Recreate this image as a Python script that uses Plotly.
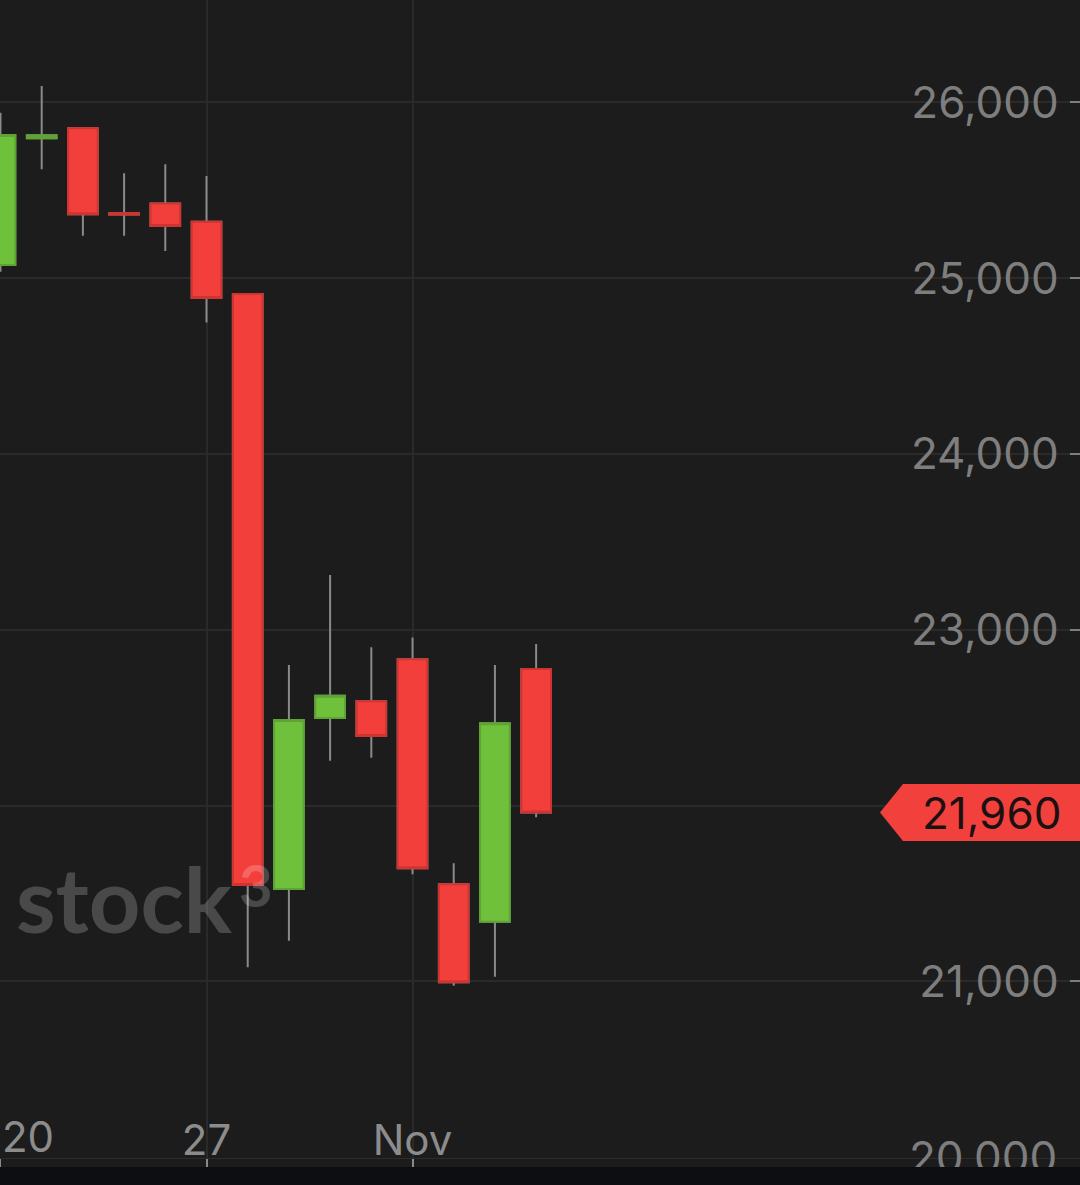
import plotly.graph_objects as go

# ---- data ----
dates = ["2025-10-20", "2025-10-21", "2025-10-22", "2025-10-23", "2025-10-24",
         "2025-10-27", "2025-10-28", "2025-10-29", "2025-10-30", "2025-10-31",
         "2025-11-03", "2025-11-04", "2025-11-05", "2025-11-06"]
opens = [25075, 25795, 25852, 25370, 25425, 25321, 24910, 21525, 22498, 22593, 22832, 21552, 21339, 22777]
highs = [25941, 26093, 25855, 25596, 25647, 25581, 24915, 22799, 23311, 22900, 22955, 21671, 22799, 22919]
lows = [25036, 25619, 25241, 25241, 25154, 24747, 21080, 21231, 22255, 22272, 21609, 20975, 21026, 21933]
closes = [25814, 25812, 25363, 25362, 25296, 24887, 21548, 22486, 22625, 22395, 21643, 20995, 22468, 21960]

x_tick_dates = ["2025-10-20", "2025-10-27", "2025-11-03"]
x_tick_text = ["20", "27", "Nov"]
y_ticks = [20000, 21000, 22000, 23000, 24000, 25000, 26000]

# ---- style ----
BG = "#1c1c1c"
GRID = "#2a2a2a"
WICK = "#8a8a8a"
UP_FILL, UP_LINE = "#6fc13b", "#5ea333"
DN_FILL, DN_LINE = "#f33f3b", "#cf3430"
LABEL = "#7e7e7e"
FONT = "Inter"
WM = "rgba(255,255,255,0.2)"

body_hi = [max(o, c) for o, c in zip(opens, closes)]
body_lo = [min(o, c) for o, c in zip(opens, closes)]
last = closes[-1]

# y tick labels: the one hidden behind the last-price tag is left blank
y_ticktext = ["" if abs(v - last) < 300 else f"{v:,}" for v in y_ticks]

fig = go.Figure()
# wicks
fig.add_trace(go.Candlestick(
    x=dates, open=opens, high=highs, low=lows, close=closes,
    increasing=dict(line=dict(color=WICK, width=2), fillcolor="rgba(0,0,0,0)"),
    decreasing=dict(line=dict(color=WICK, width=2), fillcolor="rgba(0,0,0,0)"),
    whiskerwidth=0, hoverinfo="skip", showlegend=False,
))
# bodies
fig.add_trace(go.Candlestick(
    x=dates, open=opens, high=body_hi, low=body_lo, close=closes,
    increasing=dict(line=dict(color=UP_LINE, width=2), fillcolor=UP_FILL),
    decreasing=dict(line=dict(color=DN_LINE, width=2), fillcolor=DN_FILL),
    whiskerwidth=0, showlegend=False,
))

W, H = 1080, 1185
plot_h = 1158

fig.update_layout(
    width=W, height=H,
    paper_bgcolor=BG, plot_bgcolor=BG,
    margin=dict(l=0, r=0, t=0, b=H - plot_h),
    boxgap=0.28, boxgroupgap=0,
    showlegend=False,
    xaxis=dict(
        type="category",
        range=[-0.012, 26.2],
        rangeslider=dict(visible=False),
        tickmode="array", tickvals=x_tick_dates, ticktext=[" ", x_tick_text[1], x_tick_text[2]],
        ticks="outside", ticklen=8, tickwidth=2, tickcolor="#8a8a8a",
        ticklabelposition="inside",
        tickfont=dict(family=FONT, size=42, color="#8c8c8c"),
        showgrid=True, gridcolor=GRID, gridwidth=1.5,
        showline=True, linecolor="#2c2c2c", linewidth=1,
        zeroline=False, fixedrange=True,
    ),
    yaxis=dict(
        side="right",
        range=[19994.9, 26581.9],
        tickmode="array", tickvals=y_ticks, ticktext=y_ticktext,
        ticks="inside", ticklen=10, tickwidth=2, tickcolor=LABEL,
        ticklabelposition="inside",
        ticklabelstandoff=17,
        tickfont=dict(family=FONT, size=44, color=LABEL),
        showgrid=True, gridcolor=GRID, gridwidth=1.5,
        zeroline=False, showline=False, fixedrange=True,
    ),
)

# "20" label clamped at the left edge
fig.add_annotation(
    x=0, xref="paper", xanchor="left",
    y=0, yref="paper", yanchor="bottom", yshift=-6,
    text=x_tick_text[0], showarrow=False,
    font=dict(family=FONT, size=42, color="#8c8c8c"),
)

# lowest y tick label (sits at the very edge of the plot, partly hidden)
fig.add_annotation(
    x=1059 / W, xref="paper", xanchor="right",
    y=y_ticks[0], yref="y", yanchor="middle",
    text=f"{y_ticks[0]:,}", showarrow=False,
    font=dict(family=FONT, size=44, color=LABEL),
)

# watermark
fig.add_annotation(
    x=14 / W, xref="paper", xanchor="left",
    y=1 - 898 / plot_h, yref="paper", yanchor="middle",
    text="stock", showarrow=False,
    font=dict(family="Lato", size=90, weight=700, color=WM),
)
fig.add_annotation(
    x=237 / W, xref="paper", xanchor="left",
    y=1 - 884 / plot_h, yref="paper", yanchor="middle",
    text="3", showarrow=False,
    font=dict(family="Lato", size=58, weight=700, color=WM),
)

# last price tag
fig.add_shape(
    type="path", xref="paper", yref="y",
    xsizemode="pixel", ysizemode="pixel", xanchor=1, yanchor=last,
    path="M -200,0 L -177,28.5 L 0,28.5 L 0,-28.5 L -177,-28.5 Z",
    fillcolor="#f2403c", line=dict(width=0), layer="above",
)
fig.add_annotation(
    x=991 / W, xref="paper", xanchor="center",
    y=last, yref="y", yanchor="middle",
    text=f"{last:,}", showarrow=False,
    font=dict(family=FONT, size=44, color="#1a1212"),
)

# bottom dark strip (drawn as an annotation box so it covers the 20,000 label)
fig.add_annotation(
    x=0, xref="paper", xanchor="left",
    y=-(1167 - plot_h) / plot_h, yref="paper", yanchor="top",
    text=" ", showarrow=False, width=W + 10, height=24,
    bgcolor="#0c0e12", borderpad=0, borderwidth=0,
    font=dict(size=4),
)

fig.write_html(
    "out.html",
    config={"displayModeBar": False},
    post_script="document.body.style.margin='0';document.body.style.overflow='hidden';",
)
